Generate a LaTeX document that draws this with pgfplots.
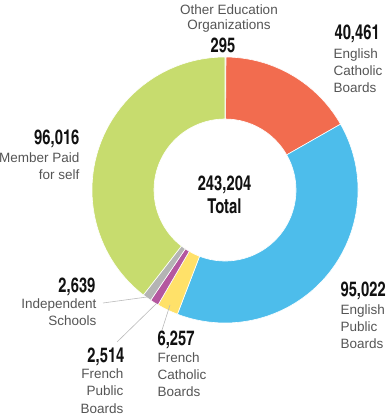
\documentclass[border=0pt]{standalone}
\usepackage{pgfplots}
\pgfplotsset{compat=1.18}
\usepackage{pgfplotstable}
\usepackage{fontspec}
\setmainfont{Liberation Sans}
\newfontfamily\numfont[FakeStretch=0.88]{texgyreheroscn-bold.otf}

\definecolor{cOther}{HTML}{BDBDBD}
\definecolor{cEngCath}{HTML}{F26C4F}
\definecolor{cEngPub}{HTML}{4DBDEB}
\definecolor{cFrCath}{HTML}{FFE169}
\definecolor{cFrPub}{HTML}{B4579F}
\definecolor{cIndep}{HTML}{B4B4B4}
\definecolor{cMember}{HTML}{C7DC6E}
\definecolor{labgray}{HTML}{555555}
\definecolor{numblack}{HTML}{111111}
\definecolor{leader}{HTML}{BBBBBB}

\pgfplotstableread{
name value color
Other 295 cOther
EngCath 40461 cEngCath
EngPub 95022 cEngPub
FrCath 6257 cFrCath
FrPub 2514 cFrPub
Indep 2639 cIndep
Member 96016 cMember
}\donutdata

\xdef\total{0}
\pgfplotsforeachungrouped \i in {0,...,6}{%
  \pgfplotstablegetelem{\i}{value}\of\donutdata
  \xdef\total{\fpeval{\total+\pgfplotsretval}}%
}
\xdef\acc{0}
\pgfplotsforeachungrouped \i in {0,...,6}{%
  \pgfplotstablegetelem{\i}{value}\of\donutdata
  \expandafter\xdef\csname sa\i\endcsname{\fpeval{90-360*\acc/\total}}%
  \xdef\acc{\fpeval{\acc+\pgfplotsretval}}%
  \expandafter\xdef\csname ea\i\endcsname{\fpeval{90-360*\acc/\total}}%
  \pgfplotstablegetelem{\i}{color}\of\donutdata
  \expandafter\xdef\csname col\i\endcsname{\pgfplotsretval}%
}

\newcommand\numtxt{\numfont\fontsize{20.5}{21}\selectfont\color{numblack}}
\newcommand\labtxt{\fontsize{13.5}{15}\selectfont\color{labgray}}

\begin{document}
\begin{tikzpicture}
\begin{axis}[
  x=1pt, y=1pt, xmin=0, xmax=388, ymin=0, ymax=418,
  scale only axis, hide axis, clip=false,
  anchor=south west, at={(0,0)},
  every node/.style={inner sep=0pt, outer sep=0pt},
]
\path (axis cs:0,0) rectangle (axis cs:388,418);
\pgfplotsinvokeforeach{0,...,6}{
  \fill[fill=\csname col#1\endcsname, draw=white, line width=0.6pt, line join=round]
    (axis cs:225,228) ++(\csname sa#1\endcsname:133pt)
    arc[start angle=\csname sa#1\endcsname, end angle=\csname ea#1\endcsname, radius=133pt]
    -- ([shift={(\csname ea#1\endcsname:71pt)}]axis cs:225,228)
    arc[start angle=\csname ea#1\endcsname, end angle=\csname sa#1\endcsname, radius=71pt]
    -- cycle;
}
% leader lines
\draw[leader, line width=0.6pt] (axis cs:103,115) -- (axis cs:147,121);
\draw[leader, line width=0.6pt] (axis cs:117,76) -- (axis cs:157,115);
\draw[leader, line width=0.6pt] (axis cs:162,88) -- (axis cs:170,113);

% Other
\node[anchor=base] at (axis cs:229,403) {\labtxt Other Education};
\node[anchor=base] at (axis cs:229,388) {\labtxt Organizations};
\node[anchor=base] at (axis cs:223,365) {\numtxt 295};
% English Catholic
\node[anchor=base west] at (axis cs:331,378) {\numtxt 40,461};
\node[anchor=base west] at (axis cs:330,359) {\labtxt English};
\node[anchor=base west] at (axis cs:330,342) {\labtxt Catholic};
\node[anchor=base west] at (axis cs:330,325) {\labtxt Boards};
% Member paid
\node[anchor=base east] at (axis cs:83,273) {\numtxt 96,016};
\node[anchor=base east] at (axis cs:83,255) {\labtxt Member Paid};
\node[anchor=base east] at (axis cs:83,238) {\labtxt for self};
% Center
\node[anchor=base] at (axis cs:224.5,227) {\numtxt 243,204};
\node[anchor=base] at (axis cs:224.5,204) {\numtxt Total};
% Independent
\node[anchor=base east] at (axis cs:99,125) {\numtxt 2,639};
\node[anchor=base east] at (axis cs:100,109) {\labtxt Independent};
\node[anchor=base east] at (axis cs:100,92) {\labtxt Schools};
% French Public
\node[anchor=base east] at (axis cs:128,56) {\numtxt 2,514};
\node[anchor=base east] at (axis cs:127,39) {\labtxt French};
\node[anchor=base east] at (axis cs:127,22) {\labtxt Public};
\node[anchor=base east] at (axis cs:127,5) {\labtxt Boards};
% French Catholic
\node[anchor=base west] at (axis cs:154,72) {\numtxt 6,257};
\node[anchor=base west] at (axis cs:154,55) {\labtxt French};
\node[anchor=base west] at (axis cs:154,38) {\labtxt Catholic};
\node[anchor=base west] at (axis cs:154,21) {\labtxt Boards};
% English Public
\node[anchor=base west] at (axis cs:337,121) {\numtxt 95,022};
\node[anchor=base west] at (axis cs:337,103) {\labtxt English};
\node[anchor=base west] at (axis cs:337,86) {\labtxt Public};
\node[anchor=base west] at (axis cs:337,69) {\labtxt Boards};
\end{axis}
\pgfresetboundingbox
\path (0,0) rectangle (388pt,418pt);
\end{tikzpicture}
\end{document}
